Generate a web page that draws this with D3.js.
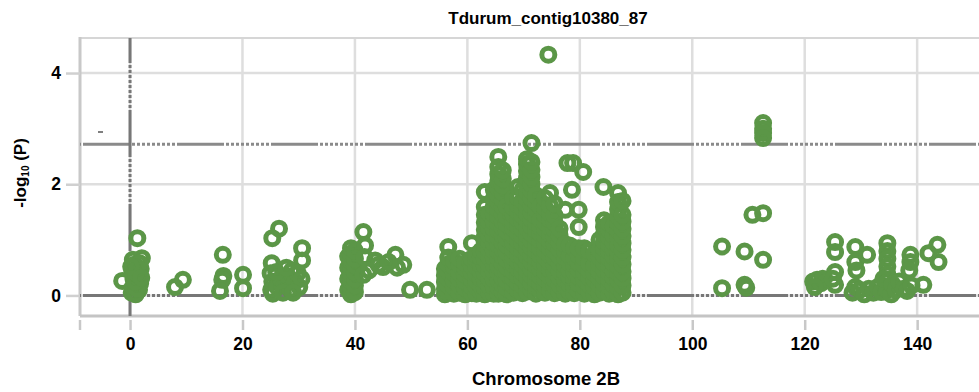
<!DOCTYPE html>
<html>
<head>
<meta charset="utf-8">
<script src="https://cdn.jsdelivr.net/npm/d3@7"></script>
<style>
  body { margin: 0; background: #fff; }
  text { font-family: "Liberation Sans", Arial, sans-serif; font-weight: bold; fill: #000; }
</style>
</head>
<body>
<svg id="chart" width="979" height="392"></svg>
<script>
// tick labels
var xTicks = [0, 20, 40, 60, 80, 100, 120, 140];
var yTicks = [0, 2, 4];
var threshold = 2.72;

// scattered markers, [position, -log10 P]
var nearZero = [[-1.4, 0.26], [1.3, 1.03], [2.1, 0.67], [0.3, 0.05], [0.5, 0.15], [0.6, 0.3],
  [0.4, 0.42], [0.7, 0.55], [0.5, 0.64], [1.6, 0.1], [1.8, 0.22], [1.5, 0.35], [1.9, 0.48],
  [1.7, 0.58], [1.0, 0.02], [1.2, 0.12], [0.9, 0.25], [1.1, 0.4], [1.3, 0.5], [0.2, 0.52], [2.0, 0.32]];
var group8to31 = [[8.0, 0.15], [9.4, 0.28], [16.5, 0.73], [16.6, 0.35], [16.4, 0.28], [16.0, 0.08],
  [20.1, 0.37], [20.1, 0.13], [25.3, 1.03], [26.5, 1.2], [30.6, 0.85], [30.6, 0.63], [25.2, 0.58],
  [25.0, 0.4], [25.3, 0.25], [25.1, 0.1], [25.4, 0.03], [26.2, 0.15], [26.8, 0.3], [27.5, 0.2],
  [28.0, 0.35], [28.5, 0.1], [28.8, 0.45], [29.3, 0.25], [29.8, 0.4], [30.1, 0.15], [30.5, 0.3],
  [27.2, 0.05], [29.0, 0.05], [26.0, 0.42], [27.8, 0.5]];
var group38to53 = [[38.8, 0.1], [38.8, 0.3], [38.8, 0.5], [38.8, 0.7], [39.3, 0.02], [39.3, 0.14],
  [39.3, 0.26], [39.3, 0.38], [39.3, 0.5], [39.3, 0.62], [39.3, 0.74], [39.3, 0.85], [40.0, 0.06],
  [40.0, 0.18], [40.0, 0.3], [40.0, 0.42], [40.0, 0.54], [40.0, 0.66], [40.0, 0.8],
  [41.5, 1.14], [41.8, 0.9], [41.7, 0.69], [43.6, 0.63], [45.0, 0.51], [47.2, 0.73], [48.6, 0.55],
  [47.5, 0.5], [41.5, 0.37], [42.5, 0.45], [44.2, 0.55], [46.0, 0.6], [49.8, 0.1], [52.8, 0.1]];
var peakTops = [[74.4, 4.33], [77.8, 2.38], [78.8, 2.38], [80.6, 2.22], [84.2, 1.95], [78.6, 1.9]];
var group104to115 = [[105.3, 0.88], [109.3, 0.79], [112.6, 0.64], [110.7, 1.45], [112.6, 1.48],
  [105.3, 0.13], [109.3, 0.19], [109.6, 0.14], [112.6, 3.1], [112.6, 3.0], [112.6, 2.92], [112.6, 2.83]];
var group121to144 = [[121.5, 0.25], [122.2, 0.28], [122.9, 0.22], [123.2, 0.3], [121.8, 0.15],
  [125.4, 0.96], [125.4, 0.78], [125.4, 0.42], [125.4, 0.19], [125.0, 0.3],
  [129.0, 0.87], [129.0, 0.6], [131.1, 0.73], [129.0, 0.15], [129.2, 0.45], [128.5, 0.05],
  [129.8, 0.1], [130.6, 0.02], [131.4, 0.12], [132.2, 0.05], [133.0, 0.15], [133.6, 0.06],
  [134.7, 0.94], [134.7, 0.8], [134.7, 0.66], [134.7, 0.52], [134.7, 0.38], [134.7, 0.25],
  [134.7, 0.1], [135.4, 0.02], [134.0, 0.3], [135.6, 0.2], [136.2, 0.1], [136.8, 0.25],
  [137.6, 0.12], [138.8, 0.73], [138.8, 0.6], [138.6, 0.45], [138.2, 0.08], [139.0, 0.18],
  [141.1, 0.19], [143.6, 0.91], [143.8, 0.6], [142.0, 0.76]];

// dense block 56-88: [position, list of -log10 P]
var denseColumns = [
  [56.0, [0.02, 0.12, 0.24, 0.36, 0.48]],
  [56.6, [0.06, 0.18, 0.3, 0.43, 0.56, 0.68, 0.87]],
  [57.6, [0.03, 0.15, 0.27, 0.4, 0.52, 0.62]],
  [58.6, [0.05, 0.17, 0.29, 0.41, 0.55, 0.66]],
  [59.6, [0.02, 0.14, 0.26, 0.38, 0.5, 0.58]],
  [60.8, [0.04, 0.16, 0.28, 0.41, 0.53, 0.66, 0.94]],
  [61.6, [0.03, 0.15, 0.27, 0.39, 0.52, 0.64, 0.73]],
  [62.4, [0.06, 0.18, 0.3, 0.42, 0.55, 0.68, 0.8]],
  [63.1, [0.02, 0.14, 0.27, 0.4, 0.53, 0.66, 0.79, 0.92, 1.05, 1.18, 1.31, 1.45, 1.59, 1.86]],
  [63.9, [0.05, 0.17, 0.3, 0.43, 0.56, 0.69, 0.82, 0.95, 1.08, 1.2, 1.33, 1.47]],
  [64.7, [0.03, 0.16, 0.29, 0.42, 0.55, 0.68, 0.81, 0.94, 1.07, 1.2, 1.33, 1.46, 1.6, 1.74, 1.9]],
  [65.5, [0.03, 0.15, 0.28, 0.41, 0.53, 0.66, 0.79, 0.91, 1.04, 1.17, 1.3, 1.42, 1.55, 1.68, 1.8, 1.93, 2.06, 2.18, 2.31, 2.49]],
  [66.3, [0.06, 0.19, 0.31, 0.44, 0.57, 0.7, 0.82, 0.95, 1.08, 1.21, 1.33, 1.46, 1.59, 1.72, 1.85, 1.98, 2.1, 2.25]],
  [67.0, [0.02, 0.14, 0.27, 0.4, 0.52, 0.65, 0.78, 0.91, 1.03, 1.16, 1.29, 1.42, 1.6]],
  [68.2, [0.05, 0.18, 0.3, 0.43, 0.56, 0.69, 0.81, 0.94, 1.07, 1.2, 1.32, 1.45, 1.58, 1.75]],
  [69.0, [0.1, 0.22, 0.35, 0.48, 0.61, 0.73, 0.86, 0.99, 1.12, 1.24, 1.37, 1.5, 1.63, 1.76, 1.95]],
  [69.8, [0.04, 0.17, 0.3, 0.42, 0.55, 0.68, 0.81, 0.93, 1.06, 1.19, 1.32, 1.44, 1.57, 1.7, 1.9]],
  [70.6, [0.07, 0.2, 0.33, 0.45, 0.58, 0.71, 0.84, 0.96, 1.09, 1.22, 1.35, 1.47, 1.6, 1.73, 1.86, 1.98, 2.11, 2.24, 2.36, 2.45]],
  [71.4, [0.1, 0.22, 0.35, 0.47, 0.6, 0.73, 0.86, 0.98, 1.11, 1.24, 1.37, 1.49, 1.62, 1.75, 1.88, 2.0, 2.13, 2.26, 2.4, 2.74]],
  [72.2, [0.03, 0.16, 0.29, 0.41, 0.54, 0.67, 0.8, 0.92, 1.05, 1.18, 1.31, 1.43, 1.56, 1.68, 1.8]],
  [73.0, [0.09, 0.21, 0.34, 0.47, 0.6, 0.72, 0.85, 0.98, 1.11, 1.23, 1.36, 1.6]],
  [73.8, [0.05, 0.18, 0.3, 0.43, 0.56, 0.69, 0.81, 0.94, 1.07, 1.2, 1.32, 1.45, 1.58, 1.75]],
  [74.7, [0.08, 0.21, 0.34, 0.46, 0.59, 0.72, 0.85, 0.97, 1.1, 1.23, 1.36, 1.48, 1.61, 1.84]],
  [75.5, [0.04, 0.17, 0.29, 0.42, 0.55, 0.68, 0.8, 0.93, 1.06, 1.19, 1.31, 1.44, 1.65]],
  [76.4, [0.06, 0.19, 0.32, 0.44, 0.57, 0.7, 0.83, 0.95, 1.08, 1.2]],
  [77.4, [0.03, 0.16, 0.28, 0.41, 0.54, 0.67, 0.79, 0.92, 1.54]],
  [78.2, [0.07, 0.2, 0.33, 0.45, 0.58, 0.71, 0.9]],
  [79.0, [0.04, 0.17, 0.3, 0.42, 0.55, 0.68, 0.85]],
  [79.8, [0.08, 0.21, 0.34, 0.46, 0.59, 0.72, 0.85, 1.23, 1.54]],
  [80.8, [0.03, 0.16, 0.29, 0.41, 0.54, 0.67, 0.85]],
  [81.7, [0.06, 0.19, 0.32, 0.44, 0.57, 0.8]],
  [82.6, [0.02, 0.15, 0.28, 0.4, 0.53, 0.75]],
  [83.5, [0.05, 0.18, 0.31, 0.43, 0.56, 0.69, 0.82, 1.0]],
  [84.3, [0.08, 0.21, 0.34, 0.46, 0.59, 0.72, 0.85, 0.97, 1.1, 1.23, 1.35]],
  [85.2, [0.03, 0.16, 0.29, 0.41, 0.54, 0.67, 0.8, 0.92, 1.05, 1.18, 1.3]],
  [86.0, [0.06, 0.19, 0.32, 0.44, 0.57, 0.7, 0.83, 0.95, 1.08, 1.25]],
  [86.8, [0.02, 0.15, 0.28, 0.4, 0.53, 0.66, 0.79, 0.91, 1.04, 1.17, 1.3, 1.42, 1.55, 1.68, 1.84]],
  [87.6, [0.05, 0.18, 0.31, 0.43, 0.56, 0.69, 0.82, 0.94, 1.07, 1.2, 1.33, 1.45, 1.7]]
];

var svg = d3.select("#chart"),
    WIDTH = 979,
    MARGINS = { top: 38, left: 80, bottom: 316 },
    GREEN = "#5b9647";

var xScale = d3.scaleLinear().domain([-8.9, 151]).range([MARGINS.left, WIDTH]);
var yScale = d3.scaleLinear().domain([-0.37, 4.63]).range([MARGINS.bottom, MARGINS.top]);

// solid stretch then a dotted stretch, repeated along the line
function mixedDash(solid, dots) {
  var arr = [solid, 2];
  for (var i = 0; i < dots; i++) arr.push(3, 2);
  return arr.join(" ");
}

// light grid
svg.append("g").selectAll("line").data(xTicks).enter().append("line")
    .attr("x1", function (d) { return xScale(d); })
    .attr("x2", function (d) { return xScale(d); })
    .attr("y1", MARGINS.top).attr("y2", MARGINS.bottom)
    .attr("stroke", "#dedede").attr("stroke-width", 2.5);
svg.append("g").selectAll("line").data(yTicks).enter().append("line")
    .attr("x1", MARGINS.left).attr("x2", WIDTH)
    .attr("y1", function (d) { return yScale(d); })
    .attr("y2", function (d) { return yScale(d); })
    .attr("stroke", "#dedede").attr("stroke-width", 2.5);

// frame
svg.append("line").attr("x1", MARGINS.left).attr("x2", WIDTH)
    .attr("y1", MARGINS.top).attr("y2", MARGINS.top)
    .attr("stroke", "#d6d6d6").attr("stroke-width", 2);
svg.append("line").attr("x1", MARGINS.left).attr("x2", MARGINS.left)
    .attr("y1", MARGINS.top - 1).attr("y2", MARGINS.bottom)
    .attr("stroke", "#c8c8c8").attr("stroke-width", 3);
svg.append("line").attr("x1", MARGINS.left).attr("x2", WIDTH)
    .attr("y1", MARGINS.bottom).attr("y2", MARGINS.bottom)
    .attr("stroke", "#c4c4c4").attr("stroke-width", 3);

// axes (ticks + labels)
var xAxis = d3.axisBottom(xScale).tickValues(xTicks).tickSize(10).tickPadding(8).tickFormat(d3.format("d"));
var gx = svg.append("g").attr("transform", "translate(0," + (MARGINS.bottom + 4) + ")").call(xAxis);
gx.select(".domain").remove();
gx.selectAll(".tick line").attr("stroke", "#c8c8c8").attr("stroke-width", 2.5);
gx.selectAll("text").attr("font-size", 17.5).attr("font-family", null);
svg.append("line").attr("x1", MARGINS.left).attr("x2", MARGINS.left)
    .attr("y1", MARGINS.bottom + 4).attr("y2", MARGINS.bottom + 14)
    .attr("stroke", "#c8c8c8").attr("stroke-width", 2.5);

var yAxis = d3.axisLeft(yScale).tickValues(yTicks).tickSize(14).tickPadding(5).tickFormat(d3.format("d"));
var gy = svg.append("g").attr("transform", "translate(" + MARGINS.left + ",0)").call(yAxis);
gy.select(".domain").remove();
gy.selectAll(".tick line").attr("stroke", "#d0d0d0").attr("stroke-width", 2.5);
gy.selectAll("text").attr("font-size", 17.5).attr("font-family", null);

// reference lines: threshold, zero, position 0
svg.append("line").attr("x1", MARGINS.left).attr("x2", WIDTH)
    .attr("y1", yScale(threshold)).attr("y2", yScale(threshold))
    .attr("stroke", "#8a8a8a").attr("stroke-width", 3)
    .attr("stroke-dasharray", mixedDash(47, 9)).attr("stroke-dashoffset", 91);
svg.append("line").attr("x1", MARGINS.left).attr("x2", WIDTH)
    .attr("y1", yScale(0)).attr("y2", yScale(0))
    .attr("stroke", "#777").attr("stroke-width", 3)
    .attr("stroke-dasharray", mixedDash(47, 9)).attr("stroke-dashoffset", 91);
svg.append("line").attr("x1", xScale(0)).attr("x2", xScale(0))
    .attr("y1", MARGINS.top).attr("y2", MARGINS.bottom)
    .attr("stroke", "#777").attr("stroke-width", 3)
    .attr("stroke-dasharray", mixedDash(47, 9)).attr("stroke-dashoffset", 22);

// tiny stray mark left of the axis line
svg.append("line").attr("x1", 98).attr("x2", 103).attr("y1", 132).attr("y2", 132)
    .attr("stroke", "#555").attr("stroke-width", 1.5);

// markers
var points = [].concat(nearZero, group8to31, group38to53, group104to115, group121to144);
denseColumns.forEach(function (c) {
  c[1].forEach(function (v) { points.push([c[0], v]); });
});
points = points.concat(peakTops);

svg.append("g").selectAll("circle").data(points).enter().append("circle")
    .attr("cx", function (d) { return xScale(d[0]); })
    .attr("cy", function (d) { return yScale(d[1]); })
    .attr("r", 6.5)
    .attr("fill", "none")
    .attr("stroke", GREEN)
    .attr("stroke-width", 5);

// titles
svg.append("text").attr("x", 548).attr("y", 24).attr("text-anchor", "middle")
    .attr("font-size", 17).text("Tdurum_contig10380_87");
svg.append("text").attr("x", 546).attr("y", 385).attr("text-anchor", "middle")
    .attr("font-size", 18.5).text("Chromosome 2B");
var yl = svg.append("text").attr("transform", "translate(26,173) rotate(-90)")
    .attr("text-anchor", "middle").attr("font-size", 17);
yl.append("tspan").text("-log");
yl.append("tspan").attr("font-size", 10).attr("dy", 3).text("10");
yl.append("tspan").attr("dy", -3).text(" (P)");
</script>
</body>
</html>
